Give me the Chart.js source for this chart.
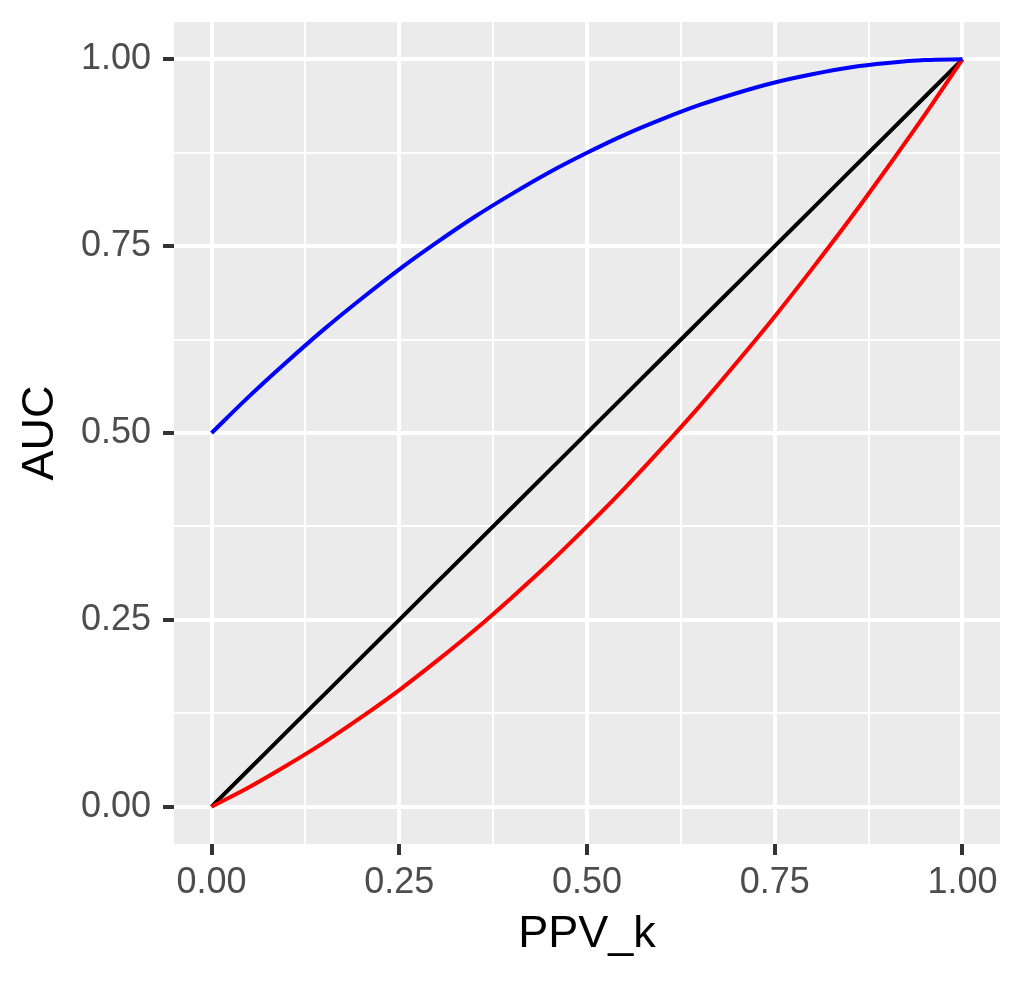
<!DOCTYPE html>
<html>
<head>
<meta charset="utf-8">
<title>AUC vs PPV_k</title>
<script src="https://cdn.jsdelivr.net/npm/chart.js@4.4.1/dist/chart.umd.min.js"></script>
<style>
  html, body { margin: 0; padding: 0; background: #ffffff; }
  #wrap { width: 1024px; height: 984px; }
</style>
</head>
<body>
<div id="wrap"><canvas id="aucChart" width="1024" height="984"></canvas></div>
<script>
// Values
const ppvK = [0, 0.05, 0.1, 0.15, 0.2, 0.25, 0.3, 0.35, 0.4, 0.45, 0.5,
              0.55, 0.6, 0.65, 0.7, 0.75, 0.8, 0.85, 0.9, 0.95, 1];
const aucBlue = [0.5, 0.549, 0.595, 0.639, 0.68, 0.719, 0.755, 0.789, 0.82, 0.849, 0.875,
                 0.899, 0.92, 0.939, 0.955, 0.969, 0.98, 0.989, 0.995, 0.999, 1];
const aucRed = [0, 0.026, 0.055, 0.086, 0.12, 0.156, 0.195, 0.236, 0.28, 0.326, 0.375,
                0.426, 0.48, 0.536, 0.595, 0.656, 0.72, 0.786, 0.855, 0.926, 1];
const aucBlack = [0, 0.05, 0.1, 0.15, 0.2, 0.25, 0.3, 0.35, 0.4, 0.45, 0.5,
                  0.55, 0.6, 0.65, 0.7, 0.75, 0.8, 0.85, 0.9, 0.95, 1];

// grid positions (major + minor) shared by both axes
const gridValues = [0, 0.125, 0.25, 0.375, 0.5, 0.625, 0.75, 0.875, 1];

const FONT = "'Liberation Sans', Arial, sans-serif";

function toPoints(ys) {
    return ppvK.map((x, i) => ({ x: x, y: ys[i] }));
}

function isMajor(v) {
    return Math.abs(v * 4 - Math.round(v * 4)) < 1e-9;
}

// gray panel behind the grid
const panelBackground = {
    id: 'panelBackground',
    beforeDraw(chart) {
        const { ctx, chartArea: a } = chart;
        ctx.save();
        ctx.fillStyle = '#EBEBEB';
        ctx.fillRect(a.left, a.top, a.right - a.left, a.bottom - a.top);
        ctx.restore();
    }
};

function axisOptions(title, titlePad, fitFn) {
    return {
        type: 'linear',
        min: -0.05,
        max: 1.05,
        afterBuildTicks: (scale) => {
            scale.ticks = gridValues.map(v => ({ value: v }));
        },
        afterFit: (s) => {
            // panel edges are fixed, so drop the label overhang padding
            s.paddingTop = 0;
            s.paddingBottom = 0;
            s.paddingLeft = 0;
            s.paddingRight = 0;
            fitFn(s);
        },
        grid: {
            color: '#FFFFFF',
            lineWidth: (c) => (c.tick && isMajor(c.tick.value)) ? 4 : 2,
            drawTicks: true,
            tickLength: 11,
            tickWidth: 4,
            tickColor: (c) => (c.tick && isMajor(c.tick.value)) ? '#333333' : 'rgba(0,0,0,0)'
        },
        border: { display: false },
        ticks: {
            autoSkip: false,
            maxRotation: 0,
            color: '#4D4D4D',
            font: { family: FONT, size: 36 },
            padding: 12,
            callback: (v) => isMajor(v) ? v.toFixed(2) : ''
        },
        title: {
            display: true,
            text: title,
            color: '#000000',
            font: { family: FONT, size: 45 },
            padding: titlePad
        }
    };
}

const xAxis = axisOptions('PPV_k', { top: 22, bottom: 22 }, (s) => { s.height = 140; });
xAxis.ticks.padding = 6;
const yAxis = axisOptions('AUC', { top: 14, bottom: 14 }, (s) => { s.width = 174; });

new Chart(document.getElementById('aucChart'), {
    type: 'scatter',
    data: {
        datasets: [
            { label: 'blue', data: toPoints(aucBlue), borderColor: '#0000FF' },
            { label: 'red', data: toPoints(aucRed), borderColor: '#FF0000' },
            { label: 'black', data: toPoints(aucBlack), borderColor: '#000000' }
        ].map(d => Object.assign(d, {
            showLine: true,
            borderWidth: 4,
            pointRadius: 0,
            cubicInterpolationMode: 'monotone',
            fill: false
        }))
    },
    options: {
        responsive: false,
        animation: false,
        devicePixelRatio: 1,
        layout: { padding: { top: 22, right: 24, left: 0, bottom: 0 } },
        plugins: {
            legend: { display: false },
            tooltip: { enabled: false }
        },
        scales: { x: xAxis, y: yAxis }
    },
    plugins: [panelBackground]
});
</script>
</body>
</html>
